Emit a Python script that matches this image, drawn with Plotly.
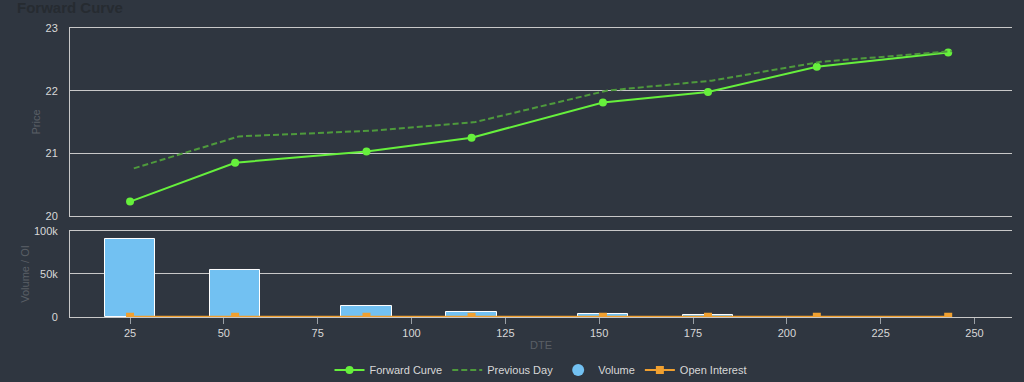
import plotly.graph_objects as go

dte = [25, 53, 88, 116, 151, 179, 208, 243]
prev_dte = [26, 54, 89, 117, 152, 180, 209, 244]
forward_curve = [20.23, 20.85, 21.03, 21.25, 21.81, 21.98, 22.38, 22.61]
previous_day = [20.76, 21.27, 21.36, 21.50, 22.00, 22.16, 22.46, 22.63]
volume = [91200, 54500, 12700, 6100, 3800, 2000, 0, 0]
open_interest = [300, 300, 300, 300, 300, 300, 300, 300]

x_ticks = [25, 50, 75, 100, 125, 150, 175, 200, 225, 250]
price_ticks = [20, 21, 22, 23]
vol_ticks = [0, 50000, 100000]
vol_tick_labels = ["0", "50k", "100k"]

BG = "#2f3640"
GRID = "#c8c8c8"
TICK = "#d8d8d8"
DIM = "#5a5f66"
GREEN = "#66f03c"
DGREEN = "#4e9a3c"
BLUE = "#72c1f2"
ORANGE = "#f0a030"
FONT = "Liberation Sans"

bar_border = [1 if v > 0 else 0 for v in volume]

fig = go.Figure()
fig.add_trace(go.Scatter(x=dte, y=forward_curve, name="Forward Curve", mode="lines+markers",
                         line=dict(color=GREEN, width=2), marker=dict(size=8, color=GREEN),
                         xaxis="x", yaxis="y"))
fig.add_trace(go.Scatter(x=prev_dte, y=previous_day, name="Previous Day", mode="lines",
                         line=dict(color=DGREEN, width=2, dash="6px,3px"),
                         xaxis="x", yaxis="y"))
fig.add_trace(go.Bar(x=dte, y=volume, name="Volume", width=13.5, showlegend=False,
                     marker=dict(color=BLUE, line=dict(color="#ffffff", width=bar_border)),
                     xaxis="x2", yaxis="y2"))
fig.add_trace(go.Scatter(x=[None], y=[None], name="Volume", mode="markers",
                         marker=dict(symbol="circle", size=12, color=BLUE),
                         xaxis="x2", yaxis="y2"))
fig.add_trace(go.Scatter(x=dte, y=open_interest, name="Open Interest", mode="lines+markers",
                         line=dict(color=ORANGE, width=2),
                         marker=dict(symbol="square", size=8, color=ORANGE),
                         xaxis="x2", yaxis="y2"))

xr = [9, 260]
fig.update_layout(
    width=1024, height=382,
    paper_bgcolor=BG, plot_bgcolor=BG,
    margin=dict(l=70, r=12, t=28, b=65, autoexpand=False),
    font=dict(family=FONT, size=11, color=TICK),
    title=dict(text="<b>Forward Curve</b>", x=17/1024, xanchor="left", y=1, yanchor="top",
               pad=dict(t=2, l=0), font=dict(size=15, color="#262b31", family=FONT)),
    bargap=0,
    showlegend=True,
    legend=dict(orientation="h", x=0.5, xanchor="center", y=-53/289, yanchor="middle",
                font=dict(size=11, color=TICK), bgcolor="rgba(0,0,0,0)", itemwidth=30),
    xaxis=dict(domain=[0, 1], range=xr, anchor="y", showticklabels=False, showgrid=False,
               zeroline=False, showline=True, mirror=True, linecolor=GRID, linewidth=1, ticks=""),
    yaxis=dict(domain=[0.3495, 1], range=[20, 23], tickvals=price_ticks, showgrid=True,
               gridcolor=GRID, gridwidth=1, zeroline=False, showline=True, linecolor=GRID,
               linewidth=1, ticks="outside", ticklen=9, tickcolor="rgba(0,0,0,0)",
               title=dict(text="Price", font=dict(color=DIM, size=11), standoff=2),
               tickfont=dict(color=TICK, size=11)),
    xaxis2=dict(domain=[0, 1], range=xr, anchor="y2", matches="x", tickvals=x_ticks,
                showgrid=False, zeroline=False, showline=True, mirror=True, linecolor=GRID, linewidth=1,
                ticks="outside", ticklen=6, tickcolor="#9aa0a6",
                title=dict(text="DTE", font=dict(color=DIM, size=11), standoff=3),
                tickfont=dict(color=TICK, size=11)),
    yaxis2=dict(domain=[0, 0.2976], range=[0, 100000], tickvals=vol_ticks, ticktext=vol_tick_labels,
                showgrid=True, gridcolor=GRID, gridwidth=1, zeroline=False, showline=True,
                linecolor=GRID, linewidth=1, ticks="outside", ticklen=9, tickcolor="rgba(0,0,0,0)",
                title=dict(text="Volume / OI", font=dict(color=DIM, size=11), standoff=2),
                tickfont=dict(color=TICK, size=11)),
)

fig.write_html("out.html", config={"displayModeBar": False},
               post_script="document.body.style.margin='0';")
